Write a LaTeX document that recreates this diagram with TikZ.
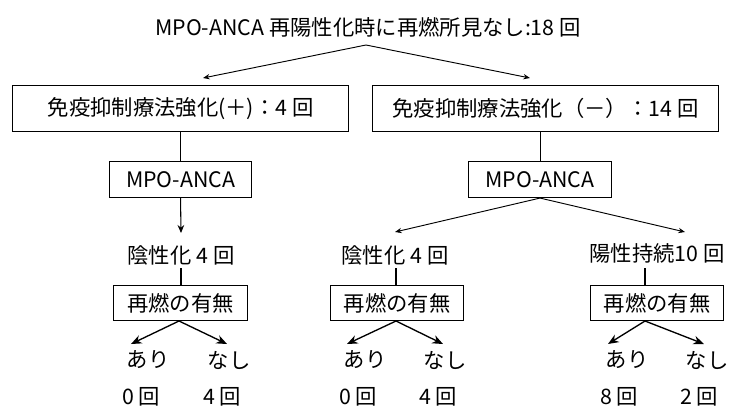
\documentclass[tikz,border=0pt]{standalone}
\usepackage{fontspec}
\setmainfont{Noto Sans CJK JP}
\usetikzlibrary{arrows.meta}
\tikzset{
  box/.style={draw, line width=0.8pt, inner sep=0pt, anchor=north west},
  lbl/.style={font=\fontsize{16pt}{18pt}\selectfont, inner sep=0pt},
  arr/.style={line width=0.8pt, -{Stealth[length=6pt,width=5pt]}},
  arrs/.style={line width=0.7pt, -{Stealth[length=5pt,width=4pt]}},
  arrb/.style={line width=1pt, -{Stealth[length=8pt,width=6.5pt]}},
  ln/.style={line width=0.8pt}
}
\begin{document}
\begin{tikzpicture}[x=0.75pt,y=-0.75pt]
\useasboundingbox (0,0) rectangle (731,414);
% title
\node[lbl] (title) at (368,27) {MPO-ANCA 再陽性化時に再燃所見なし:18 回};
\coordinate (tsplit) at (366,45);
% row 1 boxes
\node[box, minimum width=336*0.75pt, minimum height=46*0.75pt] (b1) at (12,85) {};
\node[lbl] (b1t) at (b1.center) {免疫抑制療法強化(＋)：4 回};
\node[box, minimum width=346*0.75pt, minimum height=46*0.75pt] (b2) at (372,85) {};
\node[lbl] (b2t) at (b2.center) {免疫抑制療法強化（－）：14 回};
\coordinate (t1) at (203,78);
\coordinate (t2) at (530,78);
\draw[arrs] (tsplit) -- (t1);
\draw[arrs] (tsplit) -- (t2);
% MPO boxes
\node[box, minimum width=142*0.75pt, minimum height=36*0.75pt] (m1) at (109,161) {};
\node[lbl] at (m1.center) {MPO-ANCA};
\node[box, minimum width=143*0.75pt, minimum height=36*0.75pt] (m2) at (468,161) {};
\node[lbl] at (m2.center) {MPO-ANCA};
\draw[ln] (b1.south -| m1.north) -- (m1.north);
\draw[ln] (b2.south -| m2.north) -- (m2.north);
% outcomes
\node[lbl] (n1) at (181,255) {陰性化 4 回};
\node[lbl] (n2) at (395,255) {陰性化 4 回};
\node[lbl] (p3) at (657,253) {陽性持続10 回};
\coordinate (a1) at (181,233);
\coordinate (a2) at (395,232);
\coordinate (a3) at (685,232);
\draw[arr] (m1.south) -- (a1);
\draw[arrs] (m2.south) -- (a2);
\draw[arrs] (m2.south) -- (a3);
% relapse boxes
\node[box, minimum width=134*0.75pt, minimum height=35*0.75pt] (r1) at (113,285) {};
\node[lbl] at (r1.center) {再燃の有無};
\node[box, minimum width=133*0.75pt, minimum height=35*0.75pt] (r2) at (330,285) {};
\node[lbl] at (r2.center) {再燃の有無};
\node[box, minimum width=133*0.75pt, minimum height=35*0.75pt] (r3) at (590,285) {};
\node[lbl] at (r3.center) {再燃の有無};
\draw[ln] (181,268) -- (181,285);
\draw[ln] (396,268) -- (396,285);
\draw[ln] (645,268) -- (645,285);
% yes/no arrows
\foreach \c/\l/\r/\n in {179/131/227/1, 396/347/443/2, 645/608/704/3}{
  \coordinate (ap\n) at (\c,321);
  \coordinate (al\n) at (\l,344);
  \coordinate (ar\n) at (\r,344);
  \draw[arrb] (ap\n) -- (al\n);
  \draw[arrb] (ap\n) -- (ar\n);
}
% labels
\node[lbl] (y1) at (148,360) {あり};
\node[lbl] (x1) at (229,360) {なし};
\node[lbl] (y2) at (365,360) {あり};
\node[lbl] (x2) at (445,360) {なし};
\node[lbl] (y3) at (627,360) {あり};
\node[lbl] (x3) at (707,360) {なし};
\node[lbl] at (141,397) {0 回};
\node[lbl] at (222,397) {4 回};
\node[lbl] at (358,397) {0 回};
\node[lbl] at (438,397) {4 回};
\node[lbl] at (619,397) {8 回};
\node[lbl] at (699,397) {2 回};
\end{tikzpicture}
\end{document}
